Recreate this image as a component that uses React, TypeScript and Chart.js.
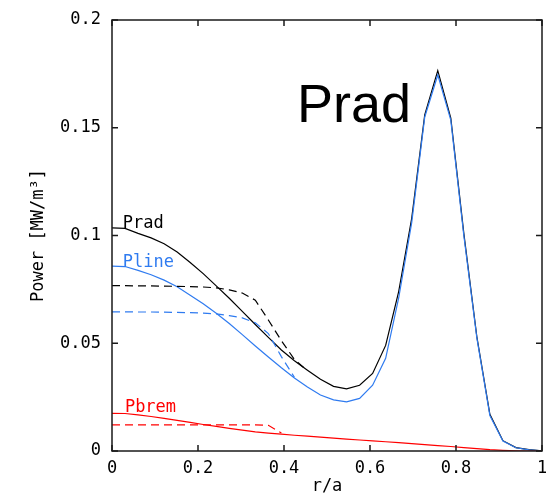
import React, { useEffect, useRef } from "react";
import { Chart, registerables } from "chart.js";

Chart.register(...registerables);

// radial grid r/a
const rGrid = [
  0, 0.0303, 0.0606, 0.0909, 0.1212, 0.1515, 0.1818, 0.2121, 0.2424, 0.2727,
  0.303, 0.3333, 0.3636, 0.3939, 0.4242, 0.4545, 0.4848, 0.5152, 0.5455, 0.5758,
  0.6061, 0.6364, 0.6667, 0.697, 0.7273, 0.7576, 0.7879, 0.8182, 0.8485, 0.8788,
  0.9091, 0.9394, 0.9697, 1.0,
];

const pradTotal = [
  0.1035, 0.1033, 0.101, 0.0989, 0.0962, 0.0923, 0.0875, 0.0823, 0.0766, 0.0709,
  0.0648, 0.0587, 0.0527, 0.0469, 0.0419, 0.0375, 0.0333, 0.03, 0.0288, 0.0305,
  0.036, 0.049, 0.074, 0.108, 0.156, 0.1765, 0.1545, 0.101, 0.053, 0.017,
  0.0048, 0.0016, 0.0006, 0.0001,
];

const plineSolid = [
  0.0858, 0.0856, 0.0838, 0.0818, 0.0793, 0.0762, 0.0723, 0.0683, 0.0639, 0.0592,
  0.054, 0.0487, 0.0436, 0.0386, 0.0339, 0.0297, 0.026, 0.0237, 0.0228, 0.0244,
  0.0305, 0.043, 0.071, 0.106, 0.155, 0.1745, 0.1535, 0.1, 0.0525, 0.0165,
  0.0046, 0.0015, 0.0005, 0.0001,
];

const pbremSolid = [
  0.0175, 0.0174, 0.0168, 0.016, 0.0151, 0.0142, 0.0133, 0.0123, 0.0114, 0.0105,
  0.0097, 0.0089, 0.0083, 0.0078, 0.0073, 0.0069, 0.0064, 0.006, 0.0055, 0.0051,
  0.0047, 0.0043, 0.0039, 0.0034, 0.003, 0.0025, 0.0021, 0.0016, 0.0011, 0.0006,
  0.0003, 0.0001, 0, 0,
];

const pradDashed = [
  0.0767, 0.0767, 0.0766, 0.0766, 0.0765, 0.0764, 0.0763, 0.0761, 0.0757, 0.0748,
  0.0733, 0.07, 0.0608, 0.0512, 0.0425, 0.0372,
];

const plineDashed = [
  0.0646, 0.0646, 0.0645, 0.0645, 0.0644, 0.0643, 0.0642, 0.064, 0.0636, 0.0628,
  0.0618, 0.0595, 0.0545, 0.0438, 0.0342,
];

const pbremDashed = [
  0.0121, 0.0121, 0.0121, 0.0121, 0.0121, 0.0121, 0.0121, 0.0121, 0.0121, 0.0121,
  0.0121, 0.0121, 0.0119, 0.0084,
];

const xTickValues = [0, 0.2, 0.4, 0.6, 0.8, 1];
const xTickLabels = ["0", "0.2", "0.4", "0.6", "0.8", "1"];
const yTickValues = [0, 0.05, 0.1, 0.15, 0.2];
const yTickLabels = ["0", "0.05", "0.1", "0.15", "0.2"];

const BLACK = "#000000";
const BLUE = "#2f7bf0";
const RED = "#ff0000";
const MONO = "'DejaVu Sans Mono', monospace";

const toPts = (vals: number[]) => vals.map((v, i) => ({ x: rGrid[i], y: v }));

const framePlugin = {
  id: "frameTicks",
  afterDatasetsDraw(chart: any) {
    const { ctx, chartArea: a, scales } = chart;
    ctx.save();
    ctx.strokeStyle = "#1a1a1a";
    ctx.lineWidth = 1.5;
    ctx.strokeRect(a.left, a.top, a.right - a.left, a.bottom - a.top);
    const L = 6;
    ctx.beginPath();
    xTickValues.forEach((v) => {
      const px = scales.x.getPixelForValue(v);
      ctx.moveTo(px, a.bottom);
      ctx.lineTo(px, a.bottom - L);
      ctx.moveTo(px, a.top);
      ctx.lineTo(px, a.top + L);
    });
    yTickValues.forEach((v) => {
      const py = scales.y.getPixelForValue(v);
      ctx.moveTo(a.left, py);
      ctx.lineTo(a.left + L, py);
      ctx.moveTo(a.right, py);
      ctx.lineTo(a.right - L, py);
    });
    ctx.stroke();

    // annotations
    const lbl = (t: string, x: number, y: number, color: string, font: string) => {
      ctx.fillStyle = color;
      ctx.font = font;
      ctx.textAlign = "left";
      ctx.textBaseline = "alphabetic";
      ctx.fillText(t, scales.x.getPixelForValue(x), scales.y.getPixelForValue(y));
    };
    lbl("Prad", 0.025, 0.1035, BLACK, `17px ${MONO}`);
    lbl("Pline", 0.025, 0.0854, BLUE, `17px ${MONO}`);
    lbl("Pbrem", 0.03, 0.0181, RED, `17px ${MONO}`);
    lbl("Prad", 0.43, 0.1527, BLACK, `54px 'Liberation Sans', Arial, sans-serif`);
    ctx.restore();
  },
};

export default function App() {
  const ref = useRef<HTMLCanvasElement | null>(null);
  useEffect(() => {
    if (!ref.current) return;
    const solid = (data: number[], color: string) => ({
      data: toPts(data),
      borderColor: color,
      borderWidth: 1.2,
      pointRadius: 0,
      fill: false,
      tension: 0,
    });
    const dashed = (data: number[], color: string) => ({
      ...solid(data, color),
      borderDash: [8, 5],
    });
    const chart = new Chart(ref.current, {
      type: "line",
      data: {
        datasets: [
          dashed(pbremDashed, RED),
          dashed(plineDashed, BLUE),
          dashed(pradDashed, BLACK),
          solid(pbremSolid, RED),
          solid(plineSolid, BLUE),
          solid(pradTotal, BLACK),
        ] as any,
      },
      options: {
        animation: false,
        responsive: false,
        devicePixelRatio: 1,
        layout: { padding: { top: 20, right: 4, left: 0, bottom: 0 } },
        plugins: { legend: { display: false }, tooltip: { enabled: false } },
        scales: {
          x: {
            type: "linear",
            min: 0,
            max: 1,
            grid: { display: false, drawTicks: false },
            border: { display: false },
            afterBuildTicks: (s: any) => {
              s.ticks = xTickValues.map((v) => ({ value: v }));
            },
            afterFit: (s: any) => {
              s.height = 47;
              s.paddingLeft = 0;
              s.paddingRight = 0;
            },
            ticks: {
              padding: 7,
              color: "#000",
              font: { family: MONO, size: 17 },
              maxRotation: 0,
              callback: (_v: any, i: number) => xTickLabels[i],
            },
            title: {
              display: true,
              text: "r/a",
              color: "#000",
              font: { family: MONO, size: 17 },
              padding: { top: 0, bottom: 1 },
            },
          },
          y: {
            type: "linear",
            min: 0,
            max: 0.2,
            grid: { display: false, drawTicks: false },
            border: { display: false },
            afterBuildTicks: (s: any) => {
              s.ticks = yTickValues.map((v) => ({ value: v }));
            },
            afterFit: (s: any) => {
              s.width = 112;
              s.paddingTop = 0;
              s.paddingBottom = 0;
            },
            ticks: {
              padding: 11,
              color: "#000",
              font: { family: MONO, size: 17 },
              callback: (_v: any, i: number) => yTickLabels[i],
            },
            title: {
              display: true,
              text: "Power [MW/m³]",
              color: "#000",
              font: { family: MONO, size: 17 },
              padding: { top: 28, bottom: 0 },
            },
          },
        },
      } as any,
      plugins: [framePlugin],
    });
    return () => chart.destroy();
  }, []);
  return (
    <div style={{ position: "fixed", left: 0, top: 0, width: 546, height: 498, background: "#fff" }}>
      <canvas ref={ref} width={546} height={498} style={{ width: 546, height: 498, display: "block" }} />
    </div>
  );
}
